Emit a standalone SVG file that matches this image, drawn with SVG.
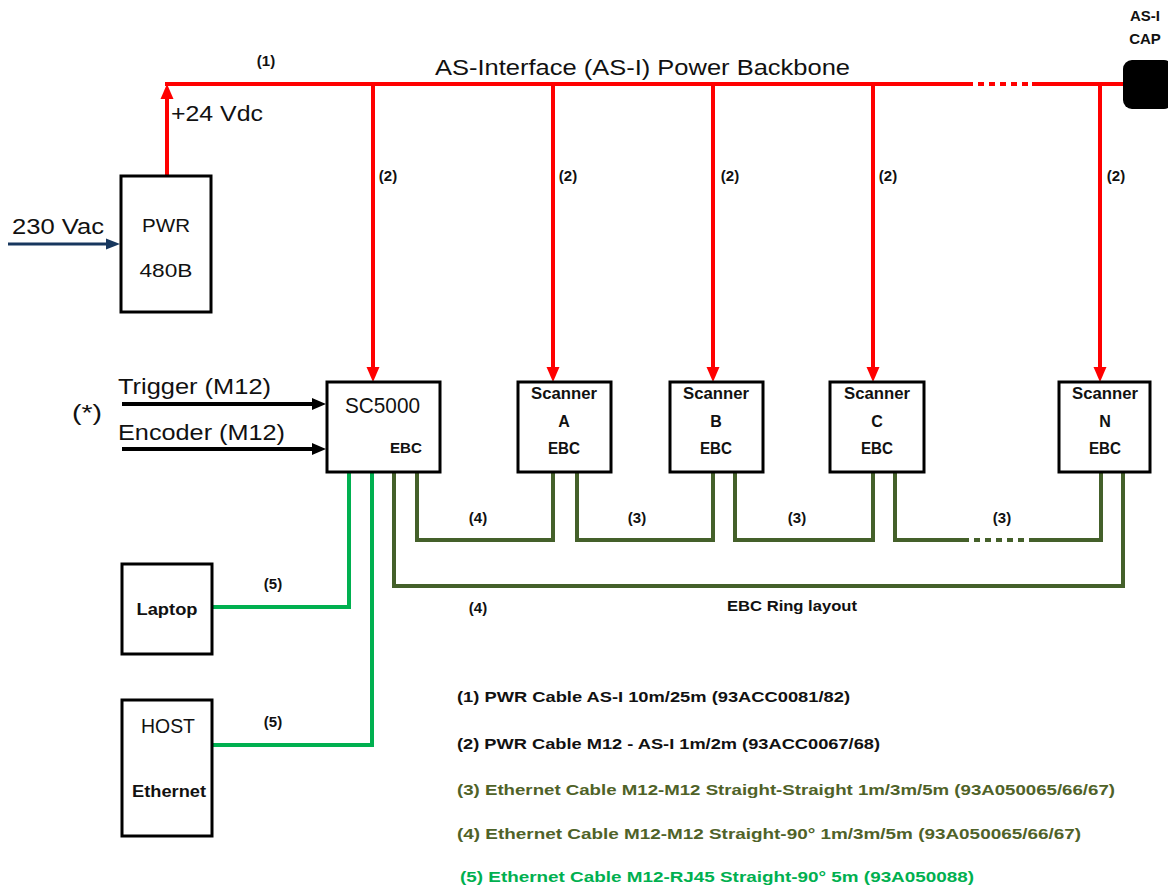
<svg xmlns="http://www.w3.org/2000/svg" width="1168" height="890" viewBox="0 0 1168 890">
<style>
text{font-family:"Liberation Sans",Arial,sans-serif;fill:#111}
.b{font-weight:bold}
.big{font-size:22px}
.lbl{font-size:15px;font-weight:bold;text-anchor:middle}
.sc{font-size:16px;font-weight:bold;text-anchor:middle}
.box{fill:#fff;stroke:#000;stroke-width:3}
.red{fill:none;stroke:#ff0000;stroke-width:4}
.blk{fill:none;stroke:#000;stroke-width:4}
.dg{fill:none;stroke:#44602a;stroke-width:4}
.lg{fill:none;stroke:#00b050;stroke-width:4}
.leg{font-size:15px;font-weight:bold}
</style>
<defs>
<marker id="ar" markerUnits="userSpaceOnUse" markerWidth="15" markerHeight="14" viewBox="0 0 15 14" refX="6" refY="7" orient="auto"><path d="M0,0.5 L15,7 L0,13.5 z" fill="#ff0000"/></marker>
<marker id="ak" markerUnits="userSpaceOnUse" markerWidth="14" markerHeight="14" viewBox="0 0 14 14" refX="6" refY="7" orient="auto"><path d="M0,1 L14,7 L0,13 z" fill="#000"/></marker>
<marker id="ab" markerUnits="userSpaceOnUse" markerWidth="14" markerHeight="14" viewBox="0 0 14 14" refX="6" refY="7" orient="auto"><path d="M0,1.5 L14,7 L0,12.5 z" fill="#17375e"/></marker>
</defs>
<rect width="1168" height="890" fill="#fff"/>

<g id="connectors">
<line x1="8" y1="244" x2="112" y2="244" stroke="#17375e" stroke-width="3" marker-end="url(#ab)"/>
<path d="M167,175 V93" class="red" marker-end="url(#ar)"/>
<path d="M165,84 H967" class="red"/>
<path d="M967,84 H1032" class="red" stroke-dasharray="6 5"/>
<path d="M1032,84 H1124" class="red"/>
<path d="M373,84 V373" class="red" marker-end="url(#ar)"/>
<path d="M553,84 V373" class="red" marker-end="url(#ar)"/>
<path d="M713,84 V373" class="red" marker-end="url(#ar)"/>
<path d="M873,84 V373" class="red" marker-end="url(#ar)"/>
<path d="M1100,84 V373" class="red" marker-end="url(#ar)"/>
<path d="M122,404 H318" class="blk" marker-end="url(#ak)"/>
<path d="M122,449 H318" class="blk" marker-end="url(#ak)"/>
<path d="M417,473 V540 H553 V473" class="dg"/>
<path d="M577,473 V540 H713 V473" class="dg"/>
<path d="M735,473 V540 H873 V473" class="dg"/>
<path d="M895,473 V540 H963" class="dg"/>
<path d="M963,540 H1030" class="dg" stroke-dasharray="6 5"/>
<path d="M1030,540 H1101 V473" class="dg"/>
<path d="M394,473 V586 H1123 V473" class="dg"/>
<path d="M349,473 V607 H213" class="lg"/>
<path d="M372,473 V745 H213" class="lg"/>
</g>

<g id="labels">
<text x="435" y="75" class="big" textLength="415" lengthAdjust="spacingAndGlyphs">AS-Interface (AS-I) Power Backbone</text>
<text x="266" y="66" class="lbl">(1)</text>
<text x="171" y="121" class="big" textLength="92" lengthAdjust="spacingAndGlyphs">+24 Vdc</text>
<text x="12" y="234" class="big" textLength="92" lengthAdjust="spacingAndGlyphs">230 Vac</text>
<text x="388" y="181" class="lbl">(2)</text>
<text x="568" y="181" class="lbl">(2)</text>
<text x="730" y="181" class="lbl">(2)</text>
<text x="888" y="181" class="lbl">(2)</text>
<text x="1116" y="181" class="lbl">(2)</text>
<text x="72" y="420" class="big" textLength="30" lengthAdjust="spacingAndGlyphs">(*)</text>
<text x="118" y="394" class="big" textLength="153" lengthAdjust="spacingAndGlyphs">Trigger (M12)</text>
<text x="118" y="440" class="big" textLength="167" lengthAdjust="spacingAndGlyphs">Encoder (M12)</text>
<text x="478" y="523" class="lbl">(4)</text>
<text x="637" y="523" class="lbl">(3)</text>
<text x="797" y="523" class="lbl">(3)</text>
<text x="1002" y="523" class="lbl">(3)</text>
<text x="478" y="613" class="lbl">(4)</text>
<text x="727" y="611" class="b" font-size="15" textLength="130" lengthAdjust="spacingAndGlyphs">EBC Ring layout</text>
<text x="273" y="589" class="lbl">(5)</text>
<text x="273" y="727" class="lbl">(5)</text>
</g>

<g id="cap">
<rect x="1123" y="60" width="50" height="49" rx="9" fill="#000"/>
<text x="1145" y="21" class="b" font-size="15" text-anchor="middle">AS-I</text>
<text x="1145" y="44" class="b" font-size="15" text-anchor="middle">CAP</text>
</g>

<g id="pwr">
<rect x="121" y="176" width="90" height="136" class="box"/>
<text x="166" y="232" font-size="19" text-anchor="middle" textLength="48" lengthAdjust="spacingAndGlyphs">PWR</text>
<text x="166" y="277" font-size="19" text-anchor="middle" textLength="53" lengthAdjust="spacingAndGlyphs">480B</text>
</g>

<g id="sc5000">
<rect x="327" y="382" width="113" height="90" class="box"/>
<text x="345" y="413" class="big" textLength="75" lengthAdjust="spacingAndGlyphs">SC5000</text>
<text x="390" y="453" class="b" font-size="15" textLength="32" lengthAdjust="spacingAndGlyphs">EBC</text>
</g>

<g id="scannerA">
<rect x="518" y="382" width="93" height="90" class="box"/>
<text x="564" y="399" class="sc" textLength="66" lengthAdjust="spacingAndGlyphs">Scanner</text>
<text x="564" y="427" class="sc">A</text>
<text x="564" y="454" class="sc" textLength="32" lengthAdjust="spacingAndGlyphs">EBC</text>
</g>
<g id="scannerB">
<rect x="670" y="382" width="93" height="90" class="box"/>
<text x="716" y="399" class="sc" textLength="66" lengthAdjust="spacingAndGlyphs">Scanner</text>
<text x="716" y="427" class="sc">B</text>
<text x="716" y="454" class="sc" textLength="32" lengthAdjust="spacingAndGlyphs">EBC</text>
</g>
<g id="scannerC">
<rect x="830" y="382" width="94" height="90" class="box"/>
<text x="877" y="399" class="sc" textLength="66" lengthAdjust="spacingAndGlyphs">Scanner</text>
<text x="877" y="427" class="sc">C</text>
<text x="877" y="454" class="sc" textLength="32" lengthAdjust="spacingAndGlyphs">EBC</text>
</g>
<g id="scannerN">
<rect x="1059" y="382" width="91" height="90" class="box"/>
<text x="1105" y="399" class="sc" textLength="66" lengthAdjust="spacingAndGlyphs">Scanner</text>
<text x="1105" y="427" class="sc">N</text>
<text x="1105" y="454" class="sc" textLength="32" lengthAdjust="spacingAndGlyphs">EBC</text>
</g>

<g id="laptop">
<rect x="122" y="564" width="90" height="90" class="box"/>
<text x="167" y="615" class="b" font-size="16" text-anchor="middle" textLength="61" lengthAdjust="spacingAndGlyphs">Laptop</text>
</g>
<g id="host">
<rect x="122" y="700" width="90" height="136" class="box"/>
<text x="168" y="733" font-size="20" text-anchor="middle" textLength="54" lengthAdjust="spacingAndGlyphs">HOST</text>
<text x="169" y="797" class="b" font-size="16" text-anchor="middle" textLength="74" lengthAdjust="spacingAndGlyphs">Ethernet</text>
</g>

<g id="legend">
<text x="457" y="702" class="leg" textLength="393" lengthAdjust="spacingAndGlyphs">(1) PWR Cable  AS-I 10m/25m (93ACC0081/82)</text>
<text x="457" y="749" class="leg" textLength="423" lengthAdjust="spacingAndGlyphs">(2) PWR Cable  M12 - AS-I 1m/2m (93ACC0067/68)</text>
<text x="457" y="795" class="leg" style="fill:#4f6228" textLength="658" lengthAdjust="spacingAndGlyphs">(3) Ethernet Cable M12-M12 Straight-Straight  1m/3m/5m (93A050065/66/67)</text>
<text x="457" y="839" class="leg" style="fill:#4f6228" textLength="624" lengthAdjust="spacingAndGlyphs">(4) Ethernet Cable M12-M12 Straight-90° 1m/3m/5m (93A050065/66/67)</text>
<text x="460" y="882" class="leg" style="fill:#00b050" textLength="514" lengthAdjust="spacingAndGlyphs">(5) Ethernet Cable M12-RJ45 Straight-90°  5m (93A050088)</text>
</g>
</svg>
